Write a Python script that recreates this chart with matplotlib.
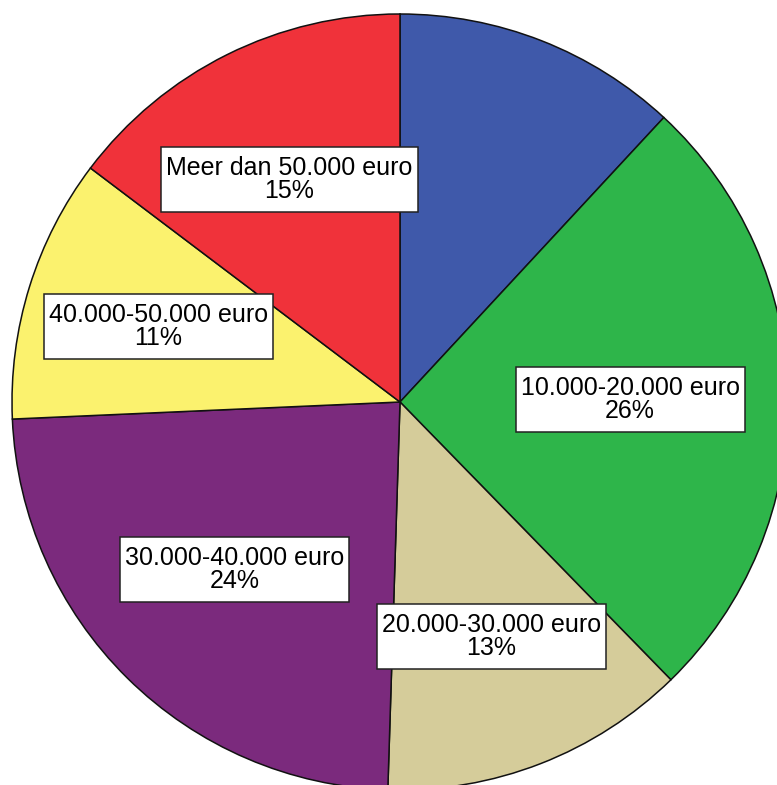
import numpy as np
import matplotlib
matplotlib.use("Agg")
import matplotlib.pyplot as plt

# inkomensklassen, met de klok mee vanaf 12 uur
categories = ["Minder dan 10.000 euro", "10.000-20.000 euro", "20.000-30.000 euro",
              "30.000-40.000 euro", "40.000-50.000 euro", "Meer dan 50.000 euro"]
shares = [11.9, 25.8, 12.8, 23.8, 11.0, 14.7]
show_label = [False, True, True, True, True, True]
colors = ["#3f59aa", "#2eb54a", "#d5cc9a", "#7b2a7d", "#fbf26e", "#f0323a"]

# afstand van het label tot het midden (fractie van de straal)
label_r = [0.6, 0.593, 0.648, 0.606, 0.653, 0.640]

W, H = 777, 785
cx, cy, r_px = 400, 402, 388

fig = plt.figure(figsize=(W / 100, H / 100), dpi=100)
ax = fig.add_axes([0, 0, 1, 1])

wedges, _ = ax.pie(shares, colors=colors, startangle=90, counterclock=False,
                   wedgeprops=dict(edgecolor="#111111", linewidth=1.1))

total = sum(shares)
for w, cat, pct, show, lr in zip(wedges, categories, shares, show_label, label_r):
    if not show:
        continue
    mid = np.deg2rad((w.theta1 + w.theta2) / 2)
    x, y = lr * np.cos(mid), lr * np.sin(mid)
    ax.text(x, y, f"{cat}\n{round(pct / total * 100):.0f}%",
            ha="center", va="center", family="Liberation Sans", fontsize=18,
            linespacing=0.95, color="black",
            bbox=dict(boxstyle="square,pad=0.2", mutation_aspect=1.8,
                      facecolor="white", edgecolor="#222222", linewidth=1.1))

# uitsnede zoals in het origineel (rechts en onder afgesneden)
ax.set_xlim(-cx / r_px, (W - cx) / r_px)
ax.set_ylim(-(H - cy) / r_px, cy / r_px)
ax.axis("off")

fig.savefig("out.png", dpi=100, facecolor="white")
